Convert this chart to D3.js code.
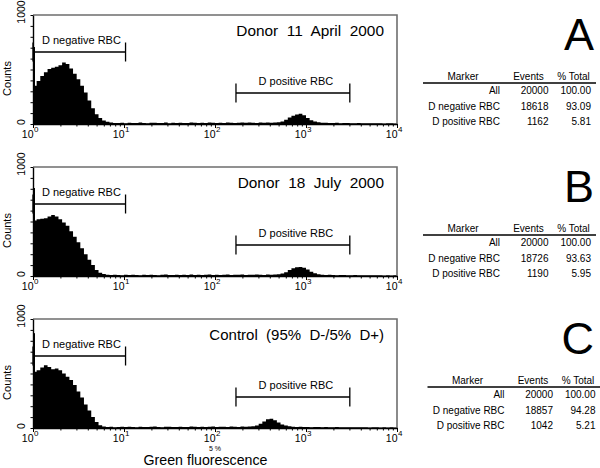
<!DOCTYPE html>
<html><head><meta charset="utf-8">
<script src="https://cdn.jsdelivr.net/npm/d3@7"></script>
<style>body{margin:0;background:#fff}svg{display:block;font-family:Arial,"Liberation Sans",sans-serif}</style>
</head><body><svg id="c" width="600" height="468"></svg>
<script>
// ---------- data ----------
const panelTitles = ["Donor  11  April  2000", "Donor  18  July  2000", "Control  (95%  D-/5%  D+)"];
const panelLetters = ["A", "B", "C"];
// histogram counts, 25 bins per decade from 10^0 to 10^4
const countsA = [
  350, 395, 440, 475, 505, 515, 525, 540, 565, 550,
  510, 460, 410, 350, 290, 215, 145, 90, 55, 32,
  20, 13, 10, 9, 11, 8, 12, 10, 9, 13,
  10, 8, 11, 12, 9, 10, 13, 8, 11, 10,
  12, 9, 10, 14, 11, 9, 12, 10, 13, 11,
  10, 12, 9, 13, 11, 10, 12, 14, 11, 13,
  12, 10, 14, 12, 13, 11, 14, 15, 22, 40,
  60, 75, 88, 95, 80, 55, 35, 22, 16, 12,
  11, 10, 9, 11, 8, 10, 9, 7, 8, 9,
  7, 8, 6, 7, 8, 6, 5, 7, 6, 5];
const countsB = [
  510, 520, 525, 530, 545, 560, 545, 520, 490, 460,
  410, 360, 310, 255, 200, 150, 100, 55, 30, 18,
  12, 9, 11, 10, 8, 12, 9, 11, 10, 8,
  11, 9, 12, 10, 8, 11, 13, 9, 10, 12,
  9, 11, 10, 13, 9, 12, 10, 11, 14, 10,
  12, 9, 11, 13, 10, 12, 11, 13, 10, 12,
  11, 13, 12, 10, 14, 12, 13, 15, 22, 35,
  55, 70, 80, 82, 75, 60, 40, 25, 16, 12,
  10, 11, 9, 8, 10, 9, 7, 8, 9, 7,
  8, 6, 7, 8, 6, 7, 5, 6, 5, 6];
const countsC = [
  515, 530, 555, 575, 560, 540, 545, 530, 500, 470,
  440, 395, 335, 280, 215, 160, 100, 55, 25, 14,
  9, 11, 8, 10, 12, 9, 11, 10, 8, 12,
  10, 9, 11, 13, 10, 8, 12, 11, 9, 10,
  12, 10, 9, 13, 11, 10, 12, 9, 11, 13,
  10, 12, 11, 9, 13, 12, 10, 14, 11, 13,
  15, 22, 40, 60, 80, 85, 70, 50, 32, 22,
  16, 12, 10, 11, 9, 10, 8, 9, 10, 8,
  9, 7, 8, 9, 7, 8, 6, 7, 8, 6,
  7, 6, 5, 7, 6, 5, 6, 5, 6, 5];
const firstChannelCounts = [706, 807, 870];
const binsPerDecade = 25;
const markerNames = ["D negative RBC", "D positive RBC"];
const markerNeg = [1, 10.4];
const markerPos = [170, 3030];
const xTickExponents = [0, 1, 2, 3, 4];
const yTickLabels = [0, 1000];
const tableHeaders = ["Marker", "Events", "% Total"];
const tableRows = ["All", "D negative RBC", "D positive RBC"];
const eventsA = [20000, 18618, 1162];
const eventsB = [20000, 18726, 1190];
const eventsC = [20000, 18857, 1042];
const pctA = ["100.00", "93.09", "5.81"];
const pctB = ["100.00", "93.63", "5.95"];
const pctC = ["100.00", "94.28", "5.21"];
const xAxisTitle = "Green fluorescence";
const yAxisTitle = "Counts";
const gateNote = "5 %";

// ---------- layout ----------
const svg = d3.select("#c");
const plotLeft = 33, plotRight = 397, plotH = 109;
const panelTops = [15, 167, 319];
const tableShift = [0, 0, 4.5];
const counts = [countsA, countsB, countsC];
const events = [eventsA, eventsB, eventsC];
const pcts = [pctA, pctB, pctC];

const x = d3.scaleLog().domain([1, 1e4]).range([plotLeft, plotRight]);

panelTops.forEach((top, p) => {
  const bottom = top + plotH;
  const y = d3.scaleLinear().domain([0, 1000]).range([bottom, top]);
  const g = svg.append("g");
  const data = counts[p];
  const pts = data.map((v, i) => ({x: Math.pow(10, i / binsPerDecade), v}));
  pts.push({x: 1e4, v: data[data.length - 1]});

  // histogram
  g.append("path")
    .datum(pts)
    .attr("fill", "#000")
    .attr("d", d3.area().curve(d3.curveStepAfter)
      .x(d => x(d.x)).y0(bottom).y1(d => y(d.v)));
  // first channel spike
  g.append("rect")
    .attr("x", x(1)).attr("width", 2)
    .attr("y", y(firstChannelCounts[p]))
    .attr("height", bottom - y(firstChannelCounts[p]))
    .attr("fill", "#000");

  // frame top/right
  g.append("path")
    .attr("d", `M${plotLeft},${top}H${plotRight}V${bottom}`)
    .attr("fill", "none").attr("stroke", "#6e6e6e").attr("stroke-width", 1.6);

  // x axis minor + major
  const minor = [];
  for (let e = 0; e < 4; e++) for (let k = 2; k <= 9; k++) minor.push(k * Math.pow(10, e));
  g.append("g").attr("transform", `translate(0,${bottom})`)
    .call(d3.axisBottom(x).tickValues(minor).tickSize(2.5).tickSizeOuter(0).tickFormat(""))
    .call(s => s.select(".domain").attr("stroke-width", 1.4));
  g.append("g").attr("transform", `translate(0,${bottom})`)
    .call(d3.axisBottom(x).tickValues(xTickExponents.map(e => Math.pow(10, e))).tickSize(4).tickSizeOuter(0).tickFormat(""))
    .call(s => s.select(".domain").remove());
  xTickExponents.forEach(e => {
    const tx = x(Math.pow(10, e));
    g.append("text").attr("x", tx + 0.5).attr("y", bottom + 14)
      .attr("text-anchor", "end").attr("font-size", 10.5).text("10");
    g.append("text").attr("x", tx + 1).attr("y", bottom + 8)
      .attr("font-size", 8).text(e);
  });

  // y axis
  g.append("g").attr("transform", `translate(${plotLeft},0)`)
    .call(d3.axisLeft(y).tickValues(d3.range(0, 1001, 100)).tickSize(2.5).tickSizeOuter(0).tickFormat(""))
    .call(s => s.select(".domain").attr("stroke-width", 1.4));
  yTickLabels.forEach(v => {
    g.append("text")
      .attr("transform", `translate(24.5,${v === 0 ? y(v) - 2 : y(v) - 3}) rotate(-90)`)
      .attr("text-anchor", "middle").attr("font-size", 10.5).text(v);
  });
  g.append("text")
    .attr("transform", `translate(11,${top + plotH / 2 + 9}) rotate(-90)`)
    .attr("text-anchor", "middle").attr("font-size", 11).text(yAxisTitle);

  // title
  g.append("text").attr("x", 384).attr("y", top + 21)
    .attr("text-anchor", "end").attr("font-size", p === 2 ? 15 : 15.4)
    .style("white-space", "pre").text(panelTitles[p]);

  // markers
  const drawMarker = (range, ly, label, anchorStart) => {
    const x0 = x(range[0]), x1 = x(range[1]);
    g.append("path")
      .attr("d", `M${x0},${ly - 9.5}V${ly + 9.5}M${x0},${ly}H${x1}M${x1},${ly - 9.5}V${ly + 9.5}`)
      .attr("stroke", "#000").attr("stroke-width", 1.3).attr("fill", "none");
    g.append("text")
      .attr("x", anchorStart ? x0 + 9 : (x0 + x1) / 2 + 3)
      .attr("y", ly - 8.5)
      .attr("text-anchor", anchorStart ? "start" : "middle")
      .attr("font-size", 11).text(label);
  };
  drawMarker(markerNeg, top + 37, markerNames[0], true);
  drawMarker(markerPos, top + 78, markerNames[1], false);

  // panel letter
  g.append("text").attr("x", 594).attr("y", top + 35)
    .attr("text-anchor", "end").attr("font-size", 45).text(panelLetters[p]);

  // table
  const sh = tableShift[p];
  const colRight = [500 + sh, 548.5 + sh, 591 + sh];
  const headCenter = [463 + sh, 528.5 + sh, 573.5 + sh];
  tableHeaders.forEach((h, i) => {
    g.append("text").attr("x", headCenter[i]).attr("y", top + 64.5)
      .attr("text-anchor", "middle").attr("font-size", 10).text(h);
  });
  g.append("line").attr("x1", 423 + sh).attr("x2", 596 + sh)
    .attr("y1", top + 68).attr("y2", top + 68)
    .attr("stroke", "#000").attr("stroke-width", 1.3);
  tableRows.forEach((r, i) => {
    const ry = top + 79 + i * 15.5;
    [r, events[p][i], pcts[p][i]].forEach((val, c) => {
      g.append("text").attr("x", colRight[c]).attr("y", ry)
        .attr("text-anchor", "end").attr("font-size", 10).text(val);
    });
  });
});

// bottom annotations
svg.append("text").attr("x", x(100)).attr("y", 450.6)
  .attr("text-anchor", "middle").attr("font-size", 7).text(gateNote);
svg.append("text").attr("x", 205.5).attr("y", 464.8)
  .attr("text-anchor", "middle").attr("font-size", 14.2).text(xAxisTitle);
</script></body></html>
